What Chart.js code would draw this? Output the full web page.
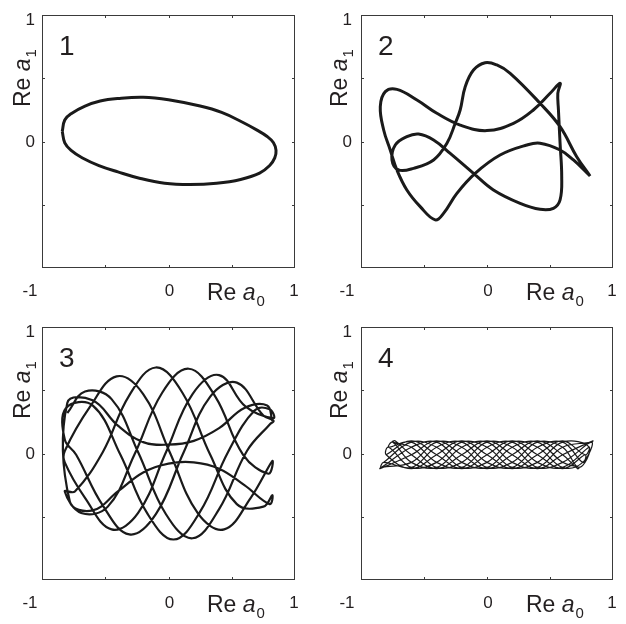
<!DOCTYPE html>
<html>
<head>
<meta charset="utf-8">
<script src="https://cdn.jsdelivr.net/npm/chart.js@4.4.1/dist/chart.umd.min.js"></script>
<style>
  body { margin: 0; background: #fff; }
  #wrap { position: relative; width: 626px; height: 624px; }
  canvas { position: absolute; }
</style>
</head>
<body>
<div id="wrap">
  <canvas id="p1" width="313" height="312" style="left:0;top:0"></canvas>
  <canvas id="p2" width="313" height="312" style="left:313px;top:0"></canvas>
  <canvas id="p3" width="313" height="312" style="left:0;top:312px"></canvas>
  <canvas id="p4" width="313" height="312" style="left:313px;top:312px"></canvas>
</div>
<script>
// tick labels and marks
const xTickValues = [-1, 0, 1];
const xTickLabels = ['-1', '0', '1'];
const yTickValues = [1, 0];
const yTickLabels = ['1', '0'];
const tickMarks = [-0.5, 0, 0.5];
const panelNames = ['1', '2', '3', '4'];

// panel 1: closed ellipse
const p1X = [-0.84, -0.82, -0.77, -0.66, -0.54, -0.40, -0.20, 0.00, 0.25, 0.42, 0.57, 0.70, 0.78, 0.83, 0.85, 0.84, 0.80, 0.72, 0.57, 0.38, 0.17, -0.03, -0.23, -0.40, -0.55, -0.68, -0.77, -0.82, -0.84];
const p1Y = [0.08, 0.17, 0.22, 0.28, 0.32, 0.34, 0.35, 0.33, 0.28, 0.23, 0.16, 0.09, 0.04, -0.01, -0.07, -0.13, -0.19, -0.25, -0.30, -0.33, -0.34, -0.33, -0.29, -0.24, -0.19, -0.13, -0.07, -0.01, 0.08];

// panel 2: closed figure with crossings
const p2X = [0.818, 0.712, 0.580, 0.421, 0.184, 0.078, -0.015, -0.107, -0.173, -0.213, -0.252, -0.318, -0.424, -0.583, -0.702, -0.754, -0.728, -0.636, -0.543, -0.424, -0.292, -0.107, 0.051, 0.263, 0.421, 0.527, 0.580, 0.593, 0.580, 0.567, 0.562, 0.580, 0.501, 0.368, 0.210, -0.001, -0.213, -0.398, -0.556, -0.715, -0.807, -0.847, -0.820, -0.768, -0.715, -0.636, -0.530, -0.411, -0.345, -0.239, -0.094, 0.104, 0.316, 0.421, 0.580, 0.686, 0.818];
const p2Y = [-0.273, -0.120, 0.117, 0.302, 0.539, 0.605, 0.623, 0.565, 0.433, 0.249, 0.144, -0.014, -0.146, -0.212, -0.225, -0.146, -0.028, 0.038, 0.059, 0.012, -0.094, -0.252, -0.383, -0.489, -0.536, -0.528, -0.462, -0.278, -0.014, 0.249, 0.381, 0.460, 0.381, 0.249, 0.144, 0.086, 0.130, 0.223, 0.328, 0.412, 0.394, 0.275, 0.091, -0.067, -0.225, -0.383, -0.515, -0.620, -0.568, -0.410, -0.252, -0.107, -0.028, -0.014, -0.067, -0.146, -0.273];

// panel 3: sweeps across x, one hump and one trough per sweep (one row per sweep)
const p3X = [
  -0.80, -0.66, -0.45, -0.24, -0.02, 0.19, 0.40, 0.62, 0.80,
  0.83, 0.75, 0.54, 0.33, 0.12, -0.10, -0.31, -0.52, -0.73, -0.82,
  -0.81, -0.60, -0.38, -0.17, 0.04, 0.25, 0.47, 0.68, 0.80,
  0.83, 0.61, 0.40, 0.19, -0.02, -0.24, -0.45, -0.66, -0.82,
  -0.82, -0.62, -0.41, -0.20, 0.01, 0.23, 0.44, 0.65, 0.82,
  0.79, 0.59, 0.37, 0.16, -0.05, -0.27, -0.48, -0.69, -0.82,
  -0.74, -0.52, -0.31, -0.10, 0.11, 0.33, 0.54, 0.75, 0.82,
  0.80, 0.60, 0.40, 0.20, 0.00, -0.20, -0.40, -0.60, -0.78,
  -0.80, -0.60, -0.40, -0.20, 0.00, 0.20, 0.40, 0.60, 0.78, 0.82];
const p3Y = [
  0.32, 0.49, 0.43, 0.01, -0.48, -0.67, -0.44, 0.02, 0.23,
  0.26, 0.30, 0.56, 0.45, 0.01, -0.48, -0.64, -0.41, -0.01, 0.11,
  0.36, 0.38, -0.01, -0.47, -0.68, -0.46, 0.01, 0.34, 0.35,
  0.28, 0.37, 0.62, 0.47, 0.01, -0.47, -0.60, -0.35, -0.07,
  0.02, 0.37, 0.61, 0.47, 0.01, -0.47, -0.60, -0.35, -0.06,
  -0.16, -0.01, 0.45, 0.67, 0.48, -0.01, -0.42, -0.47, -0.30,
  -0.30, 0.01, 0.46, 0.68, 0.48, -0.01, -0.40, -0.42, -0.33,
  -0.40, -0.25, -0.12, -0.07, -0.08, -0.15, -0.30, -0.45, -0.38,
  0.40, 0.42, 0.22, 0.09, 0.07, 0.10, 0.20, 0.36, 0.38, 0.26];

// panel 4: dense flat band, one row per sweep
const p4X = [
  -0.80, -0.60, -0.40, -0.20, 0.00, 0.20, 0.40, 0.60, 0.78,
  0.76, 0.60, 0.40, 0.20, 0.00, -0.20, -0.40, -0.60, -0.82,
  -0.84, -0.60, -0.40, -0.20, 0.00, 0.20, 0.40, 0.60, 0.73,
  0.72, 0.60, 0.40, 0.20, 0.00, -0.20, -0.40, -0.60, -0.85,
  -0.84, -0.60, -0.40, -0.20, 0.00, 0.20, 0.40, 0.60, 0.73,
  0.81, 0.60, 0.40, 0.20, 0.00, -0.20, -0.40, -0.60, -0.78,
  -0.80, -0.60, -0.40, -0.20, 0.00, 0.20, 0.40, 0.60, 0.78,
  0.81, 0.60, 0.40, 0.20, 0.00, -0.20, -0.40, -0.60, -0.78,
  -0.75, -0.60, -0.40, -0.20, 0.00, 0.20, 0.40, 0.60, 0.83,
  0.84, 0.60, 0.40, 0.20, 0.00, -0.20, -0.40, -0.60, -0.73,
  -0.75, -0.60, -0.40, -0.20, 0.00, 0.20, 0.40, 0.60, 0.83,
  0.76, 0.60, 0.40, 0.20, 0.00, -0.20, -0.40, -0.60, -0.82];
const p4Y = [
  -0.01, 0.10, -0.01, -0.12, -0.01, 0.10, -0.01, -0.12, -0.01,
  -0.07, 0.09, 0.05, -0.11, -0.07, 0.09, 0.05, -0.11, -0.07,
  -0.11, 0.05, 0.09, -0.07, -0.11, 0.05, 0.09, -0.07, -0.11,
  -0.12, -0.01, 0.10, -0.01, -0.12, -0.01, 0.10, -0.01, -0.12,
  -0.11, -0.07, 0.09, 0.05, -0.11, -0.07, 0.09, 0.05, -0.11,
  0.05, 0.09, -0.07, -0.11, 0.05, 0.09, -0.07, -0.11, 0.05,
  -0.01, -0.12, -0.01, 0.10, -0.01, -0.12, -0.01, 0.10, -0.01,
  0.05, -0.11, -0.07, 0.09, 0.05, -0.11, -0.07, 0.09, 0.05,
  0.09, -0.07, -0.11, 0.05, 0.09, -0.07, -0.11, 0.05, 0.09,
  0.10, -0.01, -0.12, -0.01, 0.10, -0.01, -0.12, -0.01, 0.10,
  0.09, 0.05, -0.11, -0.07, 0.09, 0.05, -0.11, -0.07, 0.09,
  -0.07, -0.11, 0.05, 0.09, -0.07, -0.11, 0.05, 0.09, -0.07];

const FONT = '"Liberation Sans", Arial, sans-serif';
const INK = '#231f20';

// draws "Re a" with a subscript, starting at current origin on the baseline
function drawReLabel(ctx, sub) {
  ctx.textAlign = 'left';
  ctx.textBaseline = 'alphabetic';
  ctx.font = '23px ' + FONT;
  ctx.fillText('Re ', 0, 0);
  let w = ctx.measureText('Re ').width;
  ctx.font = 'italic 23px ' + FONT;
  ctx.fillText('a', w, 0);
  w += ctx.measureText('a').width;
  ctx.font = '15px ' + FONT;
  ctx.fillText(sub, w + 1, 6);
}

const framePlugin = {
  id: 'panelFrame',
  afterDatasetsDraw(chart, args, opts) {
    const { ctx, chartArea: a } = chart;
    const xs = chart.scales.x, ys = chart.scales.y;
    const sh = opts.shift || 0;
    ctx.save();
    // box
    ctx.strokeStyle = '#3a3a3a';
    ctx.lineWidth = 1;
    ctx.strokeRect(a.left + 0.5, a.top + 0.5, a.width - 1, a.height - 1);
    // inward ticks on all four sides
    ctx.beginPath();
    tickMarks.forEach(v => {
      const px = Math.round(xs.getPixelForValue(v)) + 0.5;
      ctx.moveTo(px, a.bottom); ctx.lineTo(px, a.bottom - 3);
      ctx.moveTo(px, a.top); ctx.lineTo(px, a.top + 3);
      const py = Math.round(ys.getPixelForValue(v)) + 0.5;
      ctx.moveTo(a.left, py); ctx.lineTo(a.left + 3, py);
      ctx.moveTo(a.right, py); ctx.lineTo(a.right - 3, py);
    });
    ctx.stroke();

    ctx.fillStyle = INK;
    ctx.font = '17px ' + FONT;
    ctx.textBaseline = 'alphabetic';
    ctx.textAlign = 'center';
    xTickValues.forEach((v, i) => {
      let px = xs.getPixelForValue(v);
      if (v === -1) px += -12 + sh;
      if (v === 0) px += 1;
      if (v === 1) px -= 1;
      ctx.fillText(xTickLabels[i], px, a.bottom + 28);
    });
    ctx.textAlign = 'right';
    ctx.textBaseline = 'middle';
    yTickValues.forEach((v, i) => {
      let py = ys.getPixelForValue(v);
      if (v === 1) py += 4;
      ctx.fillText(yTickLabels[i], a.left - 7 + sh, py + 1);
    });

    // axis titles
    ctx.save();
    ctx.translate(a.left + 165, a.bottom + 32);
    drawReLabel(ctx, '0');
    ctx.restore();
    ctx.save();
    ctx.translate(a.left - 12 + sh, a.top + 92);
    ctx.rotate(-Math.PI / 2);
    drawReLabel(ctx, '1');
    ctx.restore();

    // panel number
    ctx.textAlign = 'left';
    ctx.textBaseline = 'alphabetic';
    ctx.font = '28px ' + FONT;
    ctx.fillText(opts.name, a.left + 17, a.top + 40);
    ctx.restore();
  }
};

function makePanel(id, xVals, yVals, name, pad, width, shift) {
  const pts = xVals.map((x, i) => ({ x: x, y: yVals[i] }));
  return new Chart(document.getElementById(id), {
    type: 'scatter',
    data: {
      datasets: [{
        data: pts,
        showLine: true,
        borderColor: '#1a1a1a',
        borderWidth: width,
        pointRadius: 0,
        tension: 0.4,
        fill: false
      }]
    },
    options: {
      responsive: false,
      animation: false,
      devicePixelRatio: 1,
      layout: { padding: pad },
      plugins: {
        legend: { display: false },
        tooltip: { enabled: false },
        panelFrame: { name: name, shift: shift }
      },
      scales: {
        x: { type: 'linear', min: -1, max: 1, display: false },
        y: { type: 'linear', min: -1, max: 1, display: false }
      }
    },
    plugins: [framePlugin]
  });
}

const padLeft = { left: 42, right: 18, top: 15, bottom: 44 };
const padRight = { left: 48, right: 13, top: 15, bottom: 44 };

makePanel('p1', p1X, p1Y, panelNames[0], padLeft, 3, 0);
makePanel('p2', p2X, p2Y, panelNames[1], padRight, 3, -2);
makePanel('p3', p3X, p3Y, panelNames[2], padLeft, 2.2, 0);
makePanel('p4', p4X, p4Y, panelNames[3], padRight, 1.2, -2);
</script>
</body>
</html>
